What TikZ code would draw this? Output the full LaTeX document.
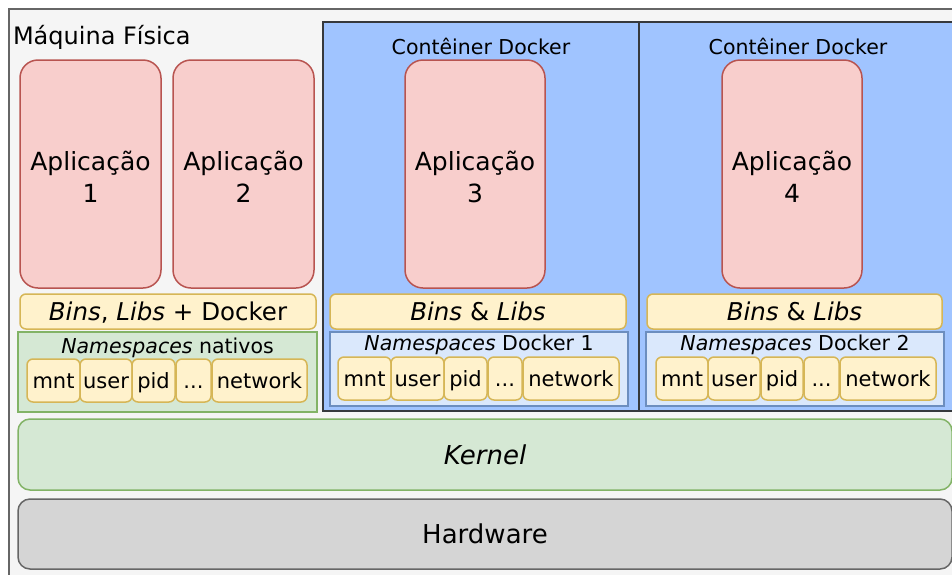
\documentclass[tikz,border=0pt]{standalone}
\usepackage{fontspec}
\setmainfont{DejaVu Sans}
\definecolor{frameF}{HTML}{F5F5F5}
\definecolor{frameD}{HTML}{666666}
\definecolor{appF}{HTML}{F8CECC}
\definecolor{appD}{HTML}{B85450}
\definecolor{ylwF}{HTML}{FFF2CC}
\definecolor{ylwD}{HTML}{D6B656}
\definecolor{grnF}{HTML}{D5E8D4}
\definecolor{grnD}{HTML}{82B366}
\definecolor{lbF}{HTML}{DAE8FC}
\definecolor{lbD}{HTML}{6C8EBF}
\definecolor{ctF}{HTML}{A0C4FF}
\definecolor{ctD}{HTML}{36393D}
\definecolor{hwF}{HTML}{D5D5D5}
\begin{document}
\begin{tikzpicture}[x=1pt,y=-1pt,
  every node/.style={inner sep=0pt, outer sep=0pt, anchor=north west, text=black},
  framebox/.style={draw=frameD, fill=frameF, line width=1.5pt},
  ctbox/.style={draw=ctD, fill=ctF, line width=2.5pt},
  appbox/.style={draw=appD, fill=appF, line width=1.5pt, rounded corners=18pt},
  apptext/.style={anchor=center, align=center, font=\fontsize{25}{32}\selectfont},
  binbox/.style={draw=ylwD, fill=ylwF, line width=1.5pt, rounded corners=6pt, text height=23pt, text depth=5pt, font=\fontsize{24.5}{28}\selectfont},
  nsgreen/.style={draw=grnD, fill=grnF, line width=1.5pt},
  nsblue/.style={draw=lbD, fill=lbF, line width=1.5pt},
  nsitem/.style={draw=ylwD, fill=ylwF, line width=1.5pt, rounded corners=6pt, minimum height=43pt, text height=19pt, text depth=4pt, font=\fontsize{21}{24}\selectfont},
  nstitle/.style={anchor=center, font=\fontsize{20.5}{24}\selectfont},
  cttitle/.style={anchor=center, font=\fontsize{20.5}{24}\selectfont},
  kernbox/.style={draw=grnD, fill=grnF, line width=1.5pt, rounded corners=12pt, font=\fontsize{26}{30}\selectfont},
  hwbox/.style={draw=frameD, fill=hwF, line width=1.5pt, rounded corners=12pt, font=\fontsize{26}{30}\selectfont}
]
\useasboundingbox (0,0) rectangle (952,574);
\clip (0,0) rectangle (952,574);
\fill[white] (0,0) rectangle (952,574);

% outer frame
\node[framebox, minimum width=980pt, minimum height=600pt] (frame) at (9,9) {};
\node[anchor=west, font=\fontsize{24}{28}\selectfont] (mf) at (13,37) {Máquina Física};

% containers
\node[ctbox, minimum width=316pt, minimum height=389pt] (c1) at (323,22) {};
\node[ctbox, minimum width=330pt, minimum height=389pt] (c2) at (639,22) {};
\node[cttitle] (c1t) at (481,46) {Contêiner Docker};
\node[cttitle] (c2t) at (798,46) {Contêiner Docker};

% applications
\node[appbox, minimum width=141pt, minimum height=228pt] (a1) at (20,60) {};
\node[appbox, minimum width=141pt, minimum height=228pt] (a2) at (173,60) {};
\node[appbox, minimum width=140pt, minimum height=228pt] (a3) at (405,60) {};
\node[appbox, minimum width=140pt, minimum height=228pt] (a4) at (722,60) {};
\node[apptext] (a1l) at ([yshift=-3pt]a1.center) {Aplicação\\1};
\node[apptext] (a2l) at ([yshift=-3pt]a2.center) {Aplicação\\2};
\node[apptext] (a3l) at ([yshift=-3pt]a3.center) {Aplicação\\3};
\node[apptext] (a4l) at ([yshift=-3pt]a4.center) {Aplicação\\4};

% bins & libs
\node[binbox, minimum width=296pt, minimum height=35pt] (b0) at (20,294) {\textit{Bins}, \textit{Libs} + Docker};
\node[binbox, minimum width=296pt, minimum height=35pt] (b1) at (330,294) {\textit{Bins} \& \textit{Libs}};
\node[binbox, minimum width=295pt, minimum height=35pt] (b2) at (647,294) {\textit{Bins} \& \textit{Libs}};

% namespaces native
\node[nsgreen, minimum width=299pt, minimum height=80pt] (n0) at (18,332) {};
\node[nstitle] (n0t) at (167.5,348) {\textit{Namespaces} nativos};
\node[nsitem, minimum width=53pt] (n0a) at (27,359) {mnt};
\node[nsitem, minimum width=52pt] (n0b) at (80,359) {user};
\node[nsitem, minimum width=43pt] (n0c) at (132,359) {pid};
\node[nsitem, minimum width=35pt] (n0d) at (176,359) {...};
\node[nsitem, minimum width=95pt] (n0e) at (212,359) {network};

% namespaces docker 1
\node[nsblue, minimum width=298pt, minimum height=74pt] (n1) at (330,332) {};
\node[nstitle] (n1t) at (479,345) {\textit{Namespaces} Docker 1};
\node[nsitem, minimum width=53pt] (n1a) at (338,357) {mnt};
\node[nsitem, minimum width=53pt] (n1b) at (391,357) {user};
\node[nsitem, minimum width=43pt] (n1c) at (444,357) {pid};
\node[nsitem, minimum width=34pt] (n1d) at (488,357) {...};
\node[nsitem, minimum width=96pt] (n1e) at (523,357) {network};

% namespaces docker 2
\node[nsblue, minimum width=298pt, minimum height=74pt] (n2) at (646,332) {};
\node[nstitle] (n2t) at (795,345) {\textit{Namespaces} Docker 2};
\node[nsitem, minimum width=52pt] (n2a) at (656,357) {mnt};
\node[nsitem, minimum width=52pt] (n2b) at (708,357) {user};
\node[nsitem, minimum width=42pt] (n2c) at (761,357) {pid};
\node[nsitem, minimum width=35pt] (n2d) at (804,357) {...};
\node[nsitem, minimum width=96pt] (n2e) at (840,357) {network};

% kernel and hardware
\node[kernbox, minimum width=934pt, minimum height=71pt] (k) at (18,419) {\textit{Kernel}};
\node[hwbox, minimum width=934pt, minimum height=70pt] (hw) at (18,499) {Hardware};
\end{tikzpicture}
\end{document}
